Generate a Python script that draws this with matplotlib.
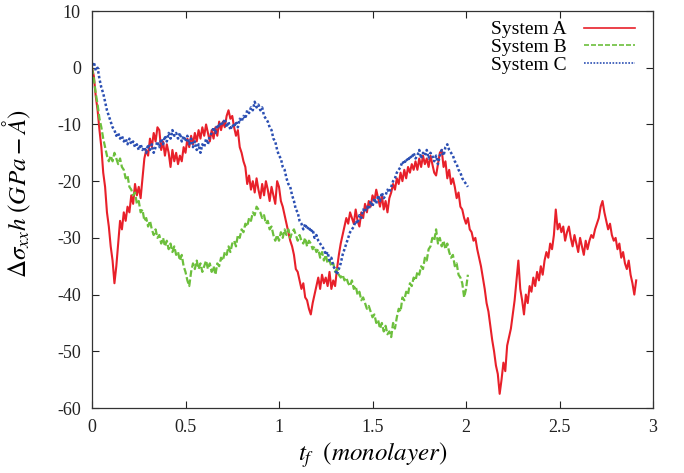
import matplotlib
matplotlib.use('Agg')
import matplotlib.pyplot as plt
import numpy as np

plt.rcParams['font.family'] = ['Liberation Serif', 'DejaVu Serif']
plt.rcParams['mathtext.fontset'] = 'stix'
plt.rcParams['axes.unicode_minus'] = False

# hand read values, sampled every 0.01 monolayer
sys_a = [
    0.0, -1.5, -5.0, -7.5, -11.0, -14.0, -18.5, -21.0, -25.5, -28.0,
    -31.5, -34.0, -38.0, -35.0, -31.0, -27.0, -28.5, -25.5, -27.0, -24.5,
    -25.5, -22.5, -24.0, -20.5, -22.5, -21.0, -23.0, -19.5, -16.0, -14.5,
    -15.5, -12.5, -14.0, -11.5, -13.0, -10.5, -11.0, -14.5, -13.0, -15.5,
    -13.5, -15.0, -17.5, -14.5, -16.5, -15.0, -17.0, -15.5, -16.5, -14.0,
    -15.0, -12.5, -14.0, -12.0, -13.5, -11.5, -13.0, -11.0, -12.5, -10.5,
    -12.0, -10.0, -11.5, -13.0, -11.0, -12.5, -10.5, -12.0, -9.5, -11.0,
    -9.5, -10.5, -8.5, -7.5, -9.0, -8.5, -10.5, -12.0, -11.0, -14.0,
    -15.0, -16.5, -17.5, -20.5, -19.0, -21.5, -20.0, -22.0, -19.5, -21.5,
    -23.0, -20.5, -22.5, -20.0, -21.5, -23.5, -21.0, -22.5, -24.0, -20.0,
    -21.0, -23.5, -24.5, -26.0, -27.5, -29.0, -30.5, -31.5, -33.0, -35.5,
    -36.0, -37.5, -39.0, -38.0, -40.5, -41.0, -42.5, -43.5, -41.5, -40.0,
    -38.5, -37.0, -39.0, -36.5, -38.0, -37.0, -38.5, -36.0, -39.0, -37.5,
    -38.5, -35.5, -33.0, -31.0, -29.5, -28.0, -26.5, -27.5, -25.5, -26.5,
    -27.5, -25.0, -27.0, -28.0, -25.5, -26.5, -24.0, -25.5, -23.5, -24.5,
    -22.5, -23.5, -21.5, -23.0, -24.5, -22.5, -25.0, -23.5, -25.5, -23.0,
    -22.0, -20.5, -21.5, -19.5, -20.5, -18.5, -20.0, -18.0, -19.5, -17.5,
    -18.5, -17.0, -18.0, -16.5, -18.0, -16.0, -17.5, -15.5, -17.0, -16.0,
    -17.5, -15.5, -17.0, -18.5, -19.0, -17.0, -15.0, -14.5, -17.5, -16.5,
    -19.5, -18.0, -20.5, -19.5, -21.0, -23.0, -22.0, -24.5, -25.0, -26.5,
    -27.5, -26.5, -28.5, -29.0, -30.5, -30.0, -32.0, -33.5, -35.0, -37.0,
    -39.0, -41.5, -43.0, -45.5, -48.0, -50.0, -52.5, -54.0, -57.5, -55.0,
    -52.0, -53.5, -49.0, -47.5, -46.0, -43.5, -41.0, -37.5, -34.0, -39.0,
    -41.0, -43.5, -40.0, -41.5, -38.5, -39.5, -37.0, -38.5, -36.0, -37.5,
    -35.0, -36.5, -34.0, -32.5, -33.5, -31.0, -32.0, -29.5, -25.0, -28.5,
    -27.5, -29.0, -28.0, -30.5, -29.0, -28.0, -30.0, -31.5, -29.5, -31.0,
    -32.5, -30.0, -31.5, -33.0, -30.5, -32.0, -30.5, -29.5, -30.0, -28.5,
    -27.5, -26.5, -24.5, -23.5, -25.5, -27.0, -28.5, -27.5, -29.5, -30.5,
    -30.0, -32.0, -31.0, -33.5, -32.5, -34.5, -35.5, -34.0, -36.5, -38.0,
    -40.0, -37.5,
]

sys_b = [
    0.0, -2.0, -4.5, -6.5, -9.0, -10.5, -12.5, -14.0, -15.5, -16.5,
    -15.5, -16.5, -15.0, -16.0, -17.0, -16.0, -17.5, -18.0, -19.5, -19.0,
    -21.0, -21.5, -22.5, -22.0, -24.0, -23.5, -25.5, -25.0, -27.0, -26.5,
    -28.0, -27.0, -28.5, -29.5, -28.5, -30.0, -29.5, -31.0, -30.0, -31.5,
    -30.5, -32.0, -31.0, -32.5, -31.5, -33.0, -32.5, -34.0, -33.0, -35.0,
    -36.0, -37.5, -38.5, -36.0, -34.5, -35.5, -34.0, -35.5, -34.5, -36.0,
    -35.0, -34.0, -35.5, -34.5, -36.0, -35.0, -36.5, -34.5, -35.0, -33.5,
    -34.0, -32.5, -33.0, -31.5, -32.5, -31.0, -30.5, -31.5, -29.5, -30.0,
    -28.5, -29.0, -27.5, -28.0, -26.5, -27.0, -25.5, -26.0, -24.5, -25.0,
    -25.5, -26.5, -26.0, -27.5, -27.0, -28.5, -28.0, -29.5, -30.5, -29.5,
    -30.5, -29.0, -30.0, -28.5, -29.5, -28.5, -30.0, -29.0, -28.5, -29.5,
    -30.5, -29.5, -30.5, -31.0, -30.0, -31.5, -30.5, -31.0, -32.0, -31.5,
    -32.5, -32.0, -33.5, -32.5, -34.0, -33.0, -34.5, -34.0, -35.0, -34.5,
    -36.0, -35.5, -36.5, -37.0, -36.5, -37.5, -37.0, -38.0, -38.5, -37.5,
    -39.0, -38.5, -40.0, -39.5, -41.0, -40.5, -41.5, -42.5, -42.0, -43.0,
    -44.0, -43.5, -45.0, -44.5, -46.0, -45.0, -46.5, -45.5, -47.0, -46.5,
    -47.5, -45.0, -46.0, -44.0, -42.5, -43.0, -40.5, -41.0, -39.5, -40.0,
    -38.0, -38.5, -37.0, -37.5, -36.0, -36.5, -35.0, -35.5, -33.5, -34.0,
    -32.0, -31.5, -30.0, -30.5, -28.5, -31.0, -30.0, -31.5, -30.5, -32.0,
    -31.0, -32.5, -33.5, -33.0, -35.0, -34.5, -36.5, -37.0, -38.0, -40.5,
    -39.0, -36.5,
]

sys_c = [
    0.5, 1.0, -0.5, 0.0, -2.0, -3.5, -4.5, -6.0, -7.5, -8.5,
    -9.5, -10.5, -11.0, -12.0, -11.5, -12.5, -12.0, -13.0, -12.5, -13.5,
    -12.5, -13.5, -13.0, -14.0, -13.5, -14.5, -13.5, -14.5, -14.0, -15.0,
    -13.5, -14.5, -13.5, -15.0, -14.0, -13.0, -14.0, -12.5, -13.5, -12.0,
    -13.0, -11.5, -12.5, -11.0, -12.0, -11.5, -12.5, -11.5, -13.0, -12.0,
    -13.0, -12.0, -13.5, -12.5, -14.0, -13.0, -14.5, -13.5, -15.0, -13.5,
    -14.0, -12.5, -13.5, -12.0, -11.5, -10.5, -11.5, -10.0, -10.5, -9.5,
    -10.0, -9.0, -10.5, -9.5, -11.0, -10.0, -10.5, -9.5, -10.5, -9.0,
    -9.5, -8.5, -9.0, -7.5, -8.0, -7.0, -7.5, -6.0, -7.0, -6.5,
    -7.5, -7.0, -8.5, -9.0, -9.5, -10.5, -11.0, -12.5, -13.0, -14.5,
    -15.5, -16.0, -17.5, -18.0, -19.5, -20.5, -21.0, -22.5, -23.5, -25.0,
    -25.5, -27.0, -27.5, -28.5, -27.5, -28.5, -28.0, -29.0, -28.5, -30.0,
    -29.5, -30.5, -31.0, -31.5, -32.0, -33.0, -32.5, -34.0, -33.5, -35.0,
    -35.5, -36.5, -35.5, -34.5, -33.0, -32.0, -31.0, -30.0, -29.0, -28.5,
    -28.0, -27.0, -27.5, -26.0, -26.5, -25.0, -25.5, -24.5, -25.0, -23.5,
    -24.5, -23.0, -24.0, -22.5, -23.5, -22.0, -23.0, -22.5, -21.5, -22.0,
    -21.0, -20.0, -19.5, -18.5, -18.0, -17.5, -16.5, -17.0, -16.0, -16.5,
    -15.5, -16.0, -15.0, -16.0, -15.5, -14.5, -16.0, -15.0, -15.5, -14.5,
    -16.0, -15.0, -15.5, -16.5, -15.5, -17.0, -15.5, -14.5, -15.5, -14.0,
    -13.5, -14.5, -15.0, -15.5, -16.5, -17.0, -18.0, -18.5, -19.5, -20.0,
    -20.5, -21.0,
]

dt = 0.01
t_a = np.arange(len(sys_a)) * dt
t_b = np.arange(len(sys_b)) * dt
t_c = np.arange(len(sys_c)) * dt

fig = plt.figure(figsize=(6.84, 4.73), dpi=100)
ax = fig.add_axes([0.1345, 0.1374, 0.8202, 0.8393])

ax.plot(t_a, sys_a, color='#e8202a', lw=1.5, ls='-', label='System A')
ax.plot(t_b, sys_b, color='#6cbf3c', lw=1.6, ls=(0, (3, 1.2)), label='System B')
ax.plot(t_c, sys_c, color='#2b4fb3', lw=1.8, ls=(0, (1, 0.9)), label='System C')

ax.set_xlim(0, 3)
ax.set_ylim(-60, 10)
ax.set_xticks([0, 0.5, 1, 1.5, 2, 2.5, 3])
ax.set_xticklabels(['0', '0.5', '1', '1.5', '2', '2.5', '3'])
ax.set_yticks(range(-60, 11, 10))
ax.tick_params(direction='in', top=True, right=True, length=5, width=0.8,
               labelsize=13, colors='#222222', pad=8)
for s in ax.spines.values():
    s.set_linewidth(0.9)
    s.set_color('#333333')

ax.set_xlabel(r'$t_f\ \ (monolayer)$', fontsize=18, labelpad=3)
ax.set_ylabel(r'$\Delta\sigma_{xx}h\ (GPa-\AA)$', fontsize=18)
ax.yaxis.set_label_coords(-0.105, 0.54)

leg = ax.legend(loc='upper right', frameon=False, markerfirst=False,
                fontsize=14, handlelength=2.6, labelspacing=0.0,
                bbox_to_anchor=(0.985, 1.0), borderaxespad=0.1,
                handletextpad=0.9)
for h in leg.get_lines():
    h.set_linewidth(1.2)

fig.savefig('out.png', dpi=100)
